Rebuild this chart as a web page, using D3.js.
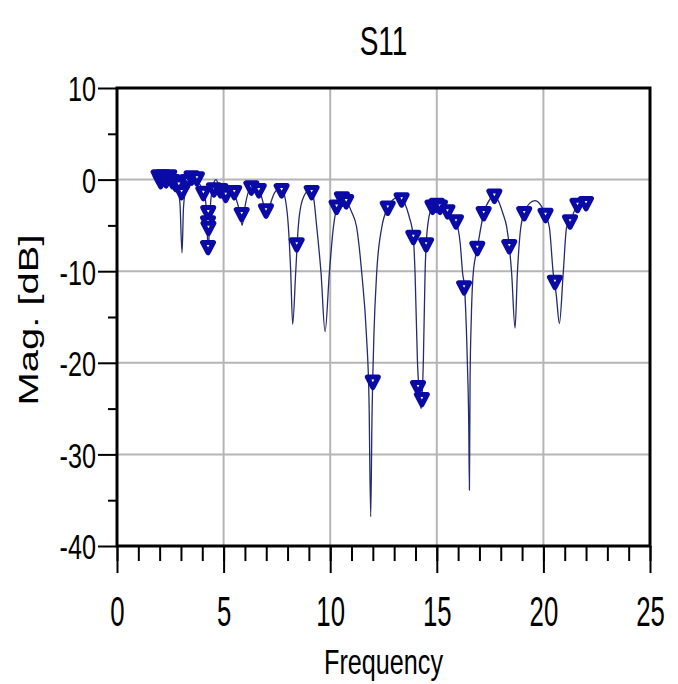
<!DOCTYPE html>
<html>
  <head>
    <meta charset="utf-8" />
    <title>S11</title>
    <style>
      body,
      html {
        margin: 0;
        padding: 0;
        background: #fff;
      }
      text {
        font-family: 'Liberation Sans', Arial, sans-serif;
        fill: #000;
      }
    </style>
  </head>
  <body>
    <svg id="svg" width="678" height="684"></svg>

    <script src="https://cdn.jsdelivr.net/npm/d3@7"></script>
    <script>
      // S11 trace (frequency, dB)
      const freq = [
        2.0, 2.2, 2.4, 2.6, 2.8, 2.95, 3.05, 3.12, 3.25, 3.5, 3.75, 3.95,
        4.1, 4.2, 4.28, 4.35, 4.47, 4.64, 4.85, 5.1, 5.4, 5.6, 5.75, 5.87,
        6.0, 6.3, 6.6, 6.85, 6.99, 7.15, 7.4, 7.7, 7.9, 8.04, 8.15, 8.24,
        8.38, 8.5, 8.7, 9.0, 9.2, 9.37, 9.57, 9.76, 9.96, 10.15, 10.35,
        10.6, 10.8, 11.0, 11.24, 11.48, 11.7, 11.82, 11.9, 11.96, 12.05,
        12.18, 12.42, 12.7, 13.0, 13.25, 13.5, 13.7, 13.9, 13.98, 14.09,
        14.2, 14.27, 14.37, 14.45, 14.55, 14.75, 15.0, 15.2, 15.5, 15.9,
        16.1, 16.21, 16.3, 16.43, 16.5, 16.53, 16.56, 16.62, 16.71, 16.9,
        17.2, 17.5, 17.7, 17.9, 18.1, 18.28, 18.4, 18.51, 18.67, 18.78,
        18.94, 19.1, 19.35, 19.6, 19.85, 20.1, 20.28, 20.46, 20.6, 20.75,
        20.93, 21.09, 21.25, 21.6, 22.0
      ];
      const magDb = [
        0.2, -0.2, 0.1, -0.3, -0.7, -2.5, -8.0, -3.0, -0.8, -0.1, -0.2, -0.8,
        -1.6, -3.5, -8.0, -4.0, -1.0, 0.0, -1.1, -1.6, -1.4, -2.2, -3.5, -5.0,
        -3.0, -0.8, -1.0, -2.5, -4.2, -3.0, -1.4, -0.9, -2.2, -5.2, -10.2, -15.8,
        -10.2, -5.2, -2.2, -1.2, -1.8, -5.2, -10.2, -16.6, -10.2, -5.2, -2.8,
        -2.1, -2.5, -3.5, -5.2, -10.2, -17.0, -24.0, -36.8, -26.0, -17.0,
        -10.2, -5.2, -3.1, -2.1, -1.9, -2.6, -4.0, -6.3, -10.2, -19.7,
        -24.0, -25.0, -19.7, -10.2, -5.5, -3.2, -2.8, -3.0, -3.5, -4.6,
        -7.0, -10.2, -11.8, -19.7, -27.0, -33.9, -22.0, -15.0, -10.2, -7.5,
        -3.7, -2.1, -1.7, -2.4, -3.7, -5.2, -7.3, -10.2, -16.2, -10.2,
        -5.2, -3.7, -2.6, -2.3, -2.7, -3.9, -5.2, -10.2, -12.5, -15.7,
        -10.2, -5.2, -4.6, -2.8, -2.6
      ];
      // marker positions
      const markerFreq = [
        1.95, 2.05, 2.15, 2.3, 2.45, 2.6, 2.75, 2.9, 3.03, 3.3, 3.5, 3.75,
        4.05, 4.28, 4.27, 4.29, 4.27, 4.55, 4.85, 5.1, 5.5, 5.85, 6.3, 6.65,
        6.99, 7.72, 8.43, 9.13, 10.3, 10.55, 10.75, 12.0, 12.7, 13.35, 13.9,
        14.12, 14.3, 14.5, 14.8, 15.0, 15.15, 15.5, 15.9, 16.28, 16.9, 17.2,
        17.7, 18.4, 19.1, 20.1, 20.54, 21.25, 21.6, 22.0
      ];
      const markerMag = [
        0.3, -0.2, 0.3, -0.1, 0.3, -0.2, -0.5, -0.6, -1.4, -0.2, 0.2, 0.1,
        -1.5, -3.6, -4.7, -5.3, -7.4, -1.1, -1.2, -1.7, -1.4, -3.8, -0.9, -1.2,
        -3.4, -1.2, -7.1, -1.4, -3.0, -2.1, -2.4, -22.1, -3.1, -2.2, -6.3,
        -22.7, -24.0, -7.1, -3.0, -2.8, -3.0, -3.5, -4.6, -11.8, -7.5, -3.7,
        -1.8, -7.3, -3.7, -3.9, -11.2, -4.6, -2.8, -2.6
      ];
      const xMajor = [0, 5, 10, 15, 20, 25];
      const yMajor = [10, 0, -10, -20, -30, -40];

      const plotLeft = 117;
      const plotRight = 650;
      const plotTop = 88;
      const plotBottom = 546;
      const squeeze = 0.7; // the source text is horizontally narrow

      const svg = d3.select('#svg');
      const xScale = d3.scaleLinear().domain([0, 25]).range([plotLeft, plotRight]);
      const yScale = d3.scaleLinear().domain([-40, 10]).range([plotBottom, plotTop]);

      // grid
      svg
        .append('g')
        .selectAll('line')
        .data(xMajor.slice(1, -1))
        .join('line')
        .attr('x1', (d) => xScale(d))
        .attr('x2', (d) => xScale(d))
        .attr('y1', plotTop)
        .attr('y2', plotBottom)
        .attr('stroke', '#b5b5b5')
        .attr('stroke-width', 2);
      svg
        .append('g')
        .selectAll('line')
        .data(yMajor.slice(1, -1))
        .join('line')
        .attr('x1', plotLeft)
        .attr('x2', plotRight)
        .attr('y1', (d) => yScale(d))
        .attr('y2', (d) => yScale(d))
        .attr('stroke', '#b5b5b5')
        .attr('stroke-width', 2);

      // axes
      const styleAxis = (g) => {
        g.select('.domain').remove();
        g.selectAll('line').attr('stroke', '#000').attr('stroke-width', 2);
        g.selectAll('text').attr('font-size', 36).attr('fill', '#000');
      };
      svg
        .append('g')
        .attr('transform', `translate(0,${plotBottom})`)
        .call(d3.axisBottom(xScale).tickValues(d3.range(0, 26, 1)).tickSize(15).tickFormat(''))
        .call(styleAxis);
      svg
        .append('g')
        .attr('transform', `translate(0,${plotBottom})`)
        .call(d3.axisBottom(xScale).tickValues(xMajor).tickSize(27).tickFormat((d) => String(d)))
        .call(styleAxis)
        .call((g) =>
          g
            .selectAll('text')
            .attr('font-size', 43)
            .attr('y', 80)
            .attr('dy', 0)
            .attr('transform', 'scale(0.6,1)')
        );
      svg
        .append('g')
        .attr('transform', `translate(${plotLeft},0)`)
        .call(d3.axisLeft(yScale).tickValues(d3.range(-35, 10, 10)).tickSize(9).tickFormat(''))
        .call(styleAxis);
      svg
        .append('g')
        .attr('transform', `translate(${plotLeft},0)`)
        .call(d3.axisLeft(yScale).tickValues(yMajor).tickSize(19).tickFormat((d) => String(d)))
        .call(styleAxis)
        .call((g) =>
          g
            .selectAll('text')
            .attr('x', -21 / squeeze)
            .attr('dy', '0.36em')
            .attr('transform', `scale(${squeeze},1)`)
        );

      // frame
      svg
        .append('rect')
        .attr('x', plotLeft)
        .attr('y', plotTop)
        .attr('width', plotRight - plotLeft)
        .attr('height', plotBottom - plotTop)
        .attr('fill', 'none')
        .attr('stroke', '#000')
        .attr('stroke-width', 3);

      // trace
      const points = freq.map((f, i) => [f, magDb[i]]);
      const linegen = d3
        .line()
        .x((d) => xScale(d[0]))
        .y((d) => yScale(d[1]))
        .curve(d3.curveMonotoneX);
      svg
        .append('path')
        .attr('d', linegen(points))
        .attr('fill', 'none')
        .attr('stroke', '#262a6e')
        .attr('stroke-width', 1.3);

      // markers (down triangles)
      const tri = 'M-5.5,-5L5.5,-5L0,5.5Z';
      svg
        .append('g')
        .selectAll('path')
        .data(markerFreq.map((f, i) => [f, markerMag[i]]))
        .join('path')
        .attr('transform', (d) => `translate(${xScale(d[0])},${yScale(d[1])})`)
        .attr('d', tri)
        .attr('fill', '#fff')
        .attr('stroke', '#0a0aa6')
        .attr('stroke-width', 5)
        .attr('stroke-linejoin', 'round');

      // titles
      const cx = (plotLeft + plotRight) / 2;
      svg
        .append('text')
        .attr('transform', `translate(${cx},55) scale(${squeeze},1)`)
        .attr('text-anchor', 'middle')
        .attr('font-size', 40)
        .text('S11');
      svg
        .append('text')
        .attr('transform', `translate(${cx},674) scale(${squeeze},1)`)
        .attr('text-anchor', 'middle')
        .attr('font-size', 36)
        .text('Frequency');
      svg
        .append('text')
        .attr('transform', `translate(38,320) rotate(-90) scale(1,${squeeze})`)
        .attr('text-anchor', 'middle')
        .attr('font-size', 40)
        .text('Mag. [dB]');
    </script>
  </body>
</html>
